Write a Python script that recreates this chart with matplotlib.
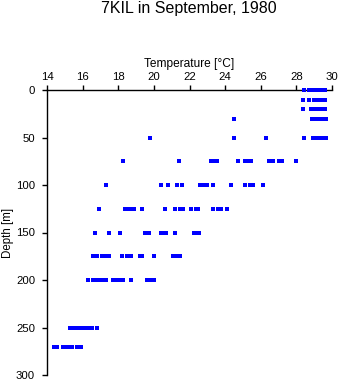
import numpy as np
import matplotlib
matplotlib.use("Agg")
import matplotlib.pyplot as plt

plt.rcParams['font.family'] = ['Liberation Sans', 'DejaVu Sans']

# Temperature readings (deg C) at each sampled depth (m)
t_0 = [28.40, 28.71, 28.96, 29.13, 29.33, 29.44, 29.61]
t_10 = [28.39, 28.71, 28.99, 29.16, 29.33, 29.44, 29.61]
t_20 = [28.39, 28.80, 28.93, 29.10, 29.27, 29.44, 29.61]
t_30 = [24.50, 28.88, 29.02, 29.16, 29.33, 29.50, 29.64]
t_50 = [19.81, 24.50, 26.31, 28.40, 28.96, 29.13, 29.30, 29.47, 29.64]
t_75 = [18.24, 21.43, 23.20, 23.37, 23.54, 24.72, 25.11, 25.28, 25.45,
        26.49, 26.71, 27.00, 27.22, 28.00]
t_100 = [17.29, 20.42, 20.81, 21.32, 21.60, 22.61, 22.81, 22.98, 23.31,
         24.33, 25.11, 25.40, 25.56, 26.13]
t_125 = [16.94, 18.40, 18.57, 18.71, 18.88, 19.35, 20.62, 21.21, 21.49,
         21.63, 22.08, 22.36, 22.50, 23.31, 23.60, 23.76, 24.13]
t_150 = [16.71, 17.50, 18.12, 19.52, 19.75, 20.39, 20.53, 20.67, 21.21,
         22.28, 22.42, 22.56]
t_175 = [16.57, 16.80, 17.08, 17.25, 17.50, 18.23, 18.51, 18.74, 19.21,
         19.33, 20.03, 21.07, 21.24, 21.47]
t_200 = [16.32, 16.57, 16.74, 16.91, 17.08, 17.33, 17.70, 17.87, 18.09,
         18.26, 18.74, 19.61, 19.80, 20.03]
t_250 = [15.31, 15.51, 15.67, 15.84, 16.01, 16.18, 16.35, 16.52, 16.83]
t_270 = [14.38, 14.58, 14.89, 15.06, 15.22, 15.42, 15.67, 15.93]

depths = [0, 10, 20, 30, 50, 75, 100, 125, 150, 175, 200, 250, 270]
temps = [t_0, t_10, t_20, t_30, t_50, t_75, t_100, t_125, t_150,
         t_175, t_200, t_250, t_270]

x_ticks = [14, 16, 18, 20, 22, 24, 26, 28, 30]
y_ticks = [0, 50, 100, 150, 200, 250, 300]

fig = plt.figure(figsize=(3.41, 3.84), dpi=100)
ax = fig.add_axes([47 / 341, 9 / 384, 285 / 341, 285 / 384])

for d, tt in zip(depths, temps):
    ax.plot(tt, np.full(len(tt), d), linestyle='none', marker='s',
            markersize=2.3, markeredgewidth=0, color='#0000ff',
            antialiased=False, clip_on=False, zorder=3)

ax.set_xlim(14, 30)
ax.set_ylim(300, 0)
ax.set_xticks(x_ticks)
ax.set_yticks(y_ticks)
ax.xaxis.tick_top()
ax.xaxis.set_label_position('top')
ax.tick_params(axis='both', direction='out', length=3.6, width=1,
               labelsize=8.2)
ax.tick_params(axis='x', pad=2.5)
ax.tick_params(axis='y', pad=5)
for side in ['right', 'bottom']:
    ax.spines[side].set_visible(False)
for side in ['left', 'top']:
    ax.spines[side].set_linewidth(1)

ax.set_xlabel('Temperature [°C]', fontsize=8.6, labelpad=3)
ax.set_ylabel('Depth [m]', fontsize=8.3, labelpad=1.5)

fig.text(189 / 341, 1 - 9 / 384, '7KIL in September, 1980',
         ha='center', va='center', fontsize=11.5)

fig.savefig('out.png', dpi=100)
